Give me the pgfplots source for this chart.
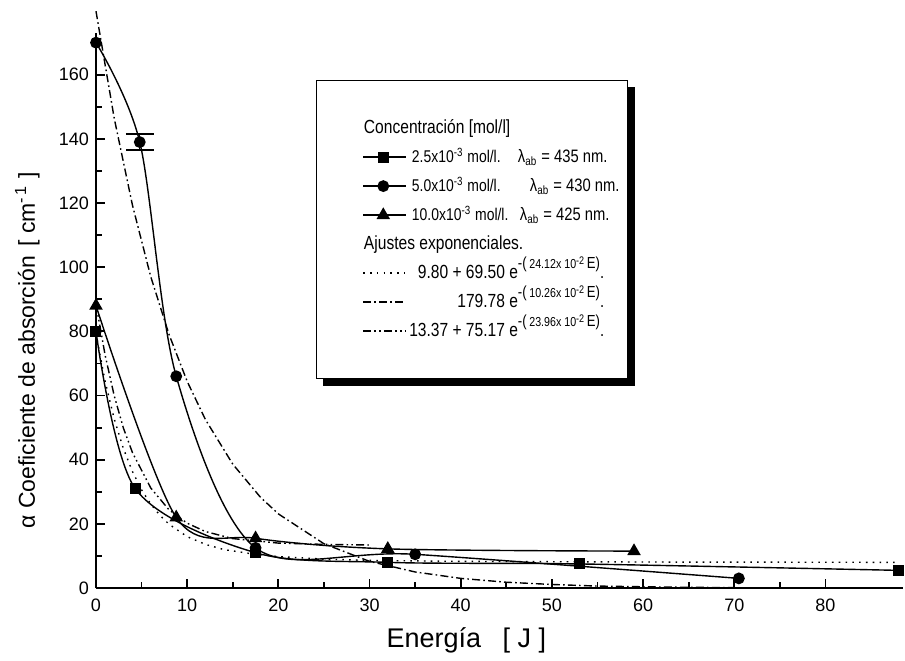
\documentclass[border=0pt]{standalone}
\usepackage{fontspec}
\setmainfont{Liberation Sans}
\newfontfamily\legfont[FakeStretch=0.82]{Liberation Sans}
\usepackage{pgfplots}
\pgfplotsset{compat=1.18}
\usetikzlibrary{backgrounds}

% exponent of the fitted curves
\newcommand{\fitexp}[1]{\raisebox{1.1ex}{\fontsize{8}{8}\selectfont -(\,{\fontsize{6.5}{6.5}\selectfont #1x 10\raisebox{0.6ex}{\fontsize{5.5}{5.5}\selectfont -2}}\,E)}.}
% wavelength of the absorption band
\newcommand{\lab}[1]{{\fontsize{9}{10}\selectfont λ\textsubscript{ab} = #1 nm.}}
% concentration of the solution
\newcommand{\conc}[1]{{\fontsize{8.5}{10}\selectfont #1x10\textsuperscript{-3} mol/l.}}

\begin{document}
\begin{tikzpicture}
\useasboundingbox (-48pt,-36pt) rectangle (404.5pt,294pt);
\begin{axis}[
  at={(0pt,0pt)}, anchor=south west,
  scale only axis, width=403.5pt, height=277.5pt,
  xmin=0, xmax=88.5, ymin=0, ymax=173,
  axis x line*=bottom, axis y line*=left,
  axis line style={line width=1.4pt},
  clip=false,
  xtick={0,10,...,80}, ytick={0,20,...,160},
  minor x tick num=1, minor y tick num=1,
  tick align=inside,
  major tick length=4.5pt, minor tick length=3pt,
  tick style={line width=0.9pt, black},
  tick label style={font=\fontsize{9}{10}\selectfont},
  /pgf/number format/assume math mode=true,
  xticklabel style={yshift=-2pt},
  xlabel={Energía\hspace{0.8em}[ J ]},
  ylabel={α Coeficiente de absorción\hspace{0.4em}[ cm\textsuperscript{-\,1} ]},
  xlabel style={font=\fontsize{13.5}{15}\selectfont, at={(axis description cs:0.459,-0.095)}, anchor=center},
  ylabel style={font=\fontsize{11.5}{13}\selectfont, at={(axis description cs:-0.085,0.428)}, anchor=center},
  legend image code/.code={\path (0pt,0pt); \draw[mark repeat=2,mark phase=2,#1] plot coordinates {(19pt,0pt) (29pt,0pt) (40pt,0pt)};},
  legend cell align=left,
  legend style={name=leg, at={(0.2726,0.9153)}, anchor=north west,
    draw=black, line width=0.6pt, fill=white,
    inner xsep=4pt, inner ysep=19pt,
    row sep=5pt, column sep=3pt,
    font=\legfont\fontsize{9}{10}\selectfont,
    nodes={inner sep=0pt, text height=7.5pt, text depth=2pt}},
]
\addlegendimage{empty legend}
\addlegendentry{\hspace*{-24pt}{\fontsize{9.5}{10}\selectfont Concentración [mol/l]}}

% 2.5x10^-3 mol/l
\addplot[black, line width=0.7pt, smooth, mark=square*, mark size=2.4pt]
  coordinates {(0,80) (4.3,31) (17.5,11) (32,8) (53,7.5) (88,5.5)};
\addlegendentry{\makebox[53pt][l]{\conc{2.5}}\lab{435}}

% 5.0x10^-3 mol/l
\addplot[black, line width=0.7pt, smooth, mark=*, mark size=2.6pt]
  coordinates {(0,170) (4.8,139) (8.8,66) (17.5,12.5) (35,10.5) (70.5,3)};
\addlegendentry{\makebox[59pt][l]{\conc{5.0}}\lab{430}}

% 10.0x10^-3 mol/l
\addplot[black, line width=0.7pt, smooth, mark=triangle*, mark size=3.2pt]
  coordinates {(0,88) (8.8,22) (17.5,15.5) (32,12.2) (59,11.5)};
\addlegendentry{\makebox[54pt][l]{\conc{10.0}}\lab{425}}

% error bar of the second point at 5.0x10^-3 mol/l
\addplot[forget plot, draw=none, mark=none,
  error bars/.cd, y dir=both, y explicit,
  error bar style={draw=black, line width=0.7pt, solid},
  error mark options={rotate=90, mark size=7pt, draw=black, line width=0.7pt}]
  coordinates {(4.8,139) +- (0,2.5)};

\addlegendimage{empty legend}
\addlegendentry{\hspace*{-24pt}{\fontsize{9.5}{10}\selectfont Ajustes exponenciales.}}

% 9.80 + 69.50 exp(-0.2412 E)
\addplot[black, line width=0.7pt, dash pattern=on 0.8pt off 2.6pt]
  coordinates {(0,79.3) (1,64.4) (2,52.7) (3,43.5) (4,36.3) (5,30.6) (6,26.2)
    (7,22.7) (8,19.9) (10,16.0) (12,13.6) (14,12.0) (17,10.7) (20,9.8)
    (25,9.0) (30,8.6) (40,8.3) (60,8.1) (88,8.0)};
\addlegendentry{\makebox[53pt][r]{\fontsize{9.5}{10}\selectfont 9.80 + 69.50 e}\fitexp{24.12}}

% 179.78 exp(-0.1026 E)
\addplot[black, line width=0.7pt, dash pattern=on 4pt off 1.6pt on 0.8pt off 1.6pt]
  coordinates {(0,179.8) (2,146.4) (4,119.3) (6,97.1) (8,79.1) (10,64.4)
    (12,52.5) (15,38.6) (18,28.4) (20,23.1) (25,13.8) (30,8.3) (35,5.0)
    (40,3.0) (45,1.8) (50,1.1) (55,0.6) (62,0.3) (70,0.1)};
\addlegendentry{\makebox[53pt][r]{\fontsize{9.5}{10}\selectfont 179.78 e}\fitexp{10.26}}

% 13.37 + 75.17 exp(-0.2396 E)
\addplot[black, line width=0.7pt, dash pattern=on 4pt off 1.6pt on 0.8pt off 1.6pt on 0.8pt off 1.6pt]
  coordinates {(0,88.5) (1,72.6) (2,59.9) (3,49.9) (4,42.2) (6,31.2) (8,24.4)
    (10,20.2) (12,17.6) (15,15.4) (20,14.0) (25,13.6) (30,13.4)};
\addlegendentry{\makebox[53pt][r]{\fontsize{9.5}{10}\selectfont 13.37 + 75.17 e}\fitexp{23.96}}
\end{axis}
% shadow of the legend frame
\begin{scope}[on background layer]
  \fill[black] ([xshift=3.5pt,yshift=-3.5pt]leg.south west) rectangle ([xshift=3.5pt,yshift=-3.5pt]leg.north east);
\end{scope}
\end{tikzpicture}
\end{document}
